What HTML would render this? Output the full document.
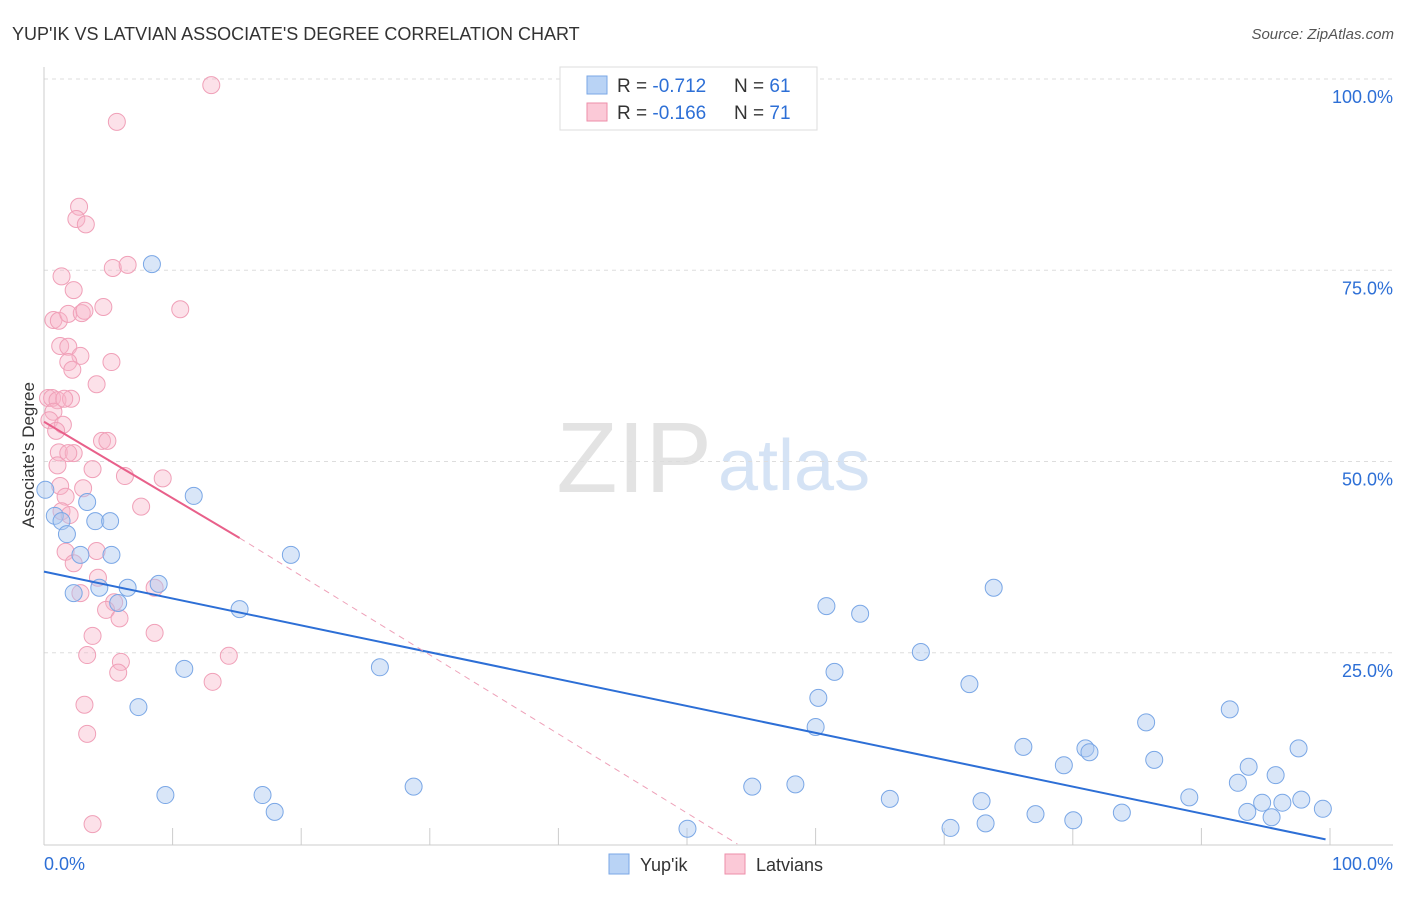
<!DOCTYPE html>
<html><head><meta charset="utf-8"><style>
body{margin:0;background:#fff;font-family:"Liberation Sans",sans-serif;}
svg text{font-family:"Liberation Sans",sans-serif;}
</style></head><body>
<svg id="chart" width="1406" height="892">
<text x="12" y="40" font-size="18" fill="#333">YUP'IK VS LATVIAN ASSOCIATE'S DEGREE CORRELATION CHART</text>
<text x="1394" y="39" font-size="15" fill="#555" text-anchor="end" font-style="italic">Source: ZipAtlas.com</text>
<text x="712" y="492" font-size="100" fill="#e3e3e3" text-anchor="end" font-family="Liberation Serif">ZIP</text>
<text x="718" y="490" font-size="72" fill="#d5e3f5">atlas</text>
<g id="grid"></g><g id="axes"></g><g id="marks"></g>
<text x="34" y="455" font-size="17" fill="#333" text-anchor="middle" transform="rotate(-90 34 455)">Associate's Degree</text>
<g>
<rect x="560" y="67" width="257" height="63" fill="#fff" stroke="#ddd"/>
<rect x="587" y="76" width="20" height="18" fill="#b9d3f5" stroke="#7aa7e6"/>
<text x="617" y="92" font-size="19" fill="#333">R = <tspan fill="#2d6fd6">-0.712</tspan></text>
<text x="734" y="92" font-size="19" fill="#333">N = <tspan fill="#2d6fd6">61</tspan></text>
<rect x="587" y="103" width="20" height="18" fill="#fbc9d7" stroke="#ee8eaa"/>
<text x="617" y="119" font-size="19" fill="#333">R = <tspan fill="#2d6fd6">-0.166</tspan></text>
<text x="734" y="119" font-size="19" fill="#333">N = <tspan fill="#2d6fd6">71</tspan></text>
</g>
<g>
<rect x="609" y="854" width="20" height="20" fill="#b9d3f5" stroke="#7aa7e6"/>
<text x="640" y="871" font-size="18" fill="#333">Yup'ik</text>
<rect x="725" y="854" width="20" height="20" fill="#fbc9d7" stroke="#ee8eaa"/>
<text x="756" y="871" font-size="18" fill="#333">Latvians</text>
</g>
</svg>
<script>
const yTicks=[25,50,75,100];
const yTickLabels=["25.0%","50.0%","75.0%","100.0%"];
const bluePx=[[152,264],[46,490],[55,516],[62,521],[67,534],[87,502],[95,521],[110,521],[81,555],[112,555],[74,593],[99,588],[127,588],[118,603],[159,584],[194,496],[291,555],[240,609],[184,669],[380,667],[139,707],[166,795],[262,795],[275,812],[413,787],[688,829],[752,787],[795,784],[826,606],[860,614],[834,672],[818,698],[815,727],[921,652],[969,684],[994,588],[890,799],[982,801],[950,828],[986,823],[1035,814],[1073,820],[1122,813],[1023,747],[1064,765],[1085,748],[1090,752],[1146,722],[1154,760],[1189,797],[1230,709],[1248,767],[1238,783],[1247,812],[1262,803],[1272,817],[1275,775],[1282,803],[1298,748],[1301,800],[1323,809]];
const pinkPx=[[211,85],[117,122],[79,207],[76,219],[86,224],[62,276],[113,268],[128,265],[74,290],[180,309],[104,307],[54,320],[59,321],[68,314],[82,313],[85,311],[60,346],[68,347],[80,356],[111,362],[68,362],[73,370],[97,384],[48,398],[52,398],[57,400],[71,399],[64,399],[53,412],[50,420],[63,425],[56,431],[59,452],[74,453],[68,453],[102,441],[108,441],[57,465],[92,469],[125,476],[163,478],[60,486],[83,488],[65,497],[141,507],[61,511],[69,515],[96,551],[66,552],[74,563],[98,578],[80,593],[114,602],[106,610],[120,618],[155,588],[154,633],[92,636],[87,655],[121,662],[118,673],[229,656],[213,682],[85,705],[87,734],[93,824]];
const blueX=bluePx.map(p=>+((p[0]-44)/13.49).toFixed(1));
const blueY=bluePx.map(p=>+((844-p[1])/7.65).toFixed(1));
const pinkX=pinkPx.map(p=>+((p[0]-44)/13.49).toFixed(1));
const pinkY=pinkPx.map(p=>+((844-p[1])/7.65).toFixed(1));
const blueTrend=[[0,35.6],[95,0.6]];
const pinkTrend=[[0,55.2],[14.5,40.0],[51.4,0]];

const X0=44,X1=1393,Y0=844,Y1=79;
const sx=v=>X0+(X1-X0)*v/100, sy=v=>Y0-(Y0-Y1)*v/100;
const NS="http://www.w3.org/2000/svg";
function mk(tag,attrs,parent){const e=document.createElementNS(NS,tag);for(const k in attrs)e.setAttribute(k,attrs[k]);document.getElementById(parent).appendChild(e);return e;}
yTicks.forEach((t,i)=>{
  const g=mk("line",{x1:X0,x2:X1,y1:sy(t),y2:sy(t),stroke:"#ddd","stroke-dasharray":"4,4"},"grid");
  
  
  const l=mk("text",{x:1393,y:sy(t)+24,"font-size":18,fill:"#2d6fd6","text-anchor":"end"},"axes");
  l.textContent=yTickLabels[i];
  
  
});
const ax=mk("line",{x1:X0,x2:X1,y1:Y0+1,y2:Y0+1,stroke:"#ccc"},"axes");


const ay=mk("line",{x1:X0,x2:X0,y1:67,y2:Y0+1,stroke:"#ccc"},"axes");


for(let i=1;i<=10;i++){const x=X0+i*128.6;if(x>X1)break;
  const t=mk("line",{x1:x,x2:x,y1:828,y2:845,stroke:"#ccc"},"axes");
  
  }
const xl=mk("text",{x:44,y:870,"font-size":18,fill:"#2d6fd6"},"axes");xl.textContent="0.0%";


const xr=mk("text",{x:1393,y:870,"font-size":18,fill:"#2d6fd6","text-anchor":"end"},"axes");xr.textContent="100.0%";


pinkX.forEach((v,i)=>{const c=mk("circle",{cx:sx(v),cy:sy(pinkY[i]),r:8.5,fill:"rgba(248,180,200,0.4)",stroke:"#f0a0b8","stroke-width":1},"marks");
  
  });
bluePx.forEach((p,i)=>{const c=mk("circle",{cx:sx(blueX[i]),cy:sy(blueY[i]),r:8.5,fill:"rgba(170,200,240,0.45)",stroke:"#7aa7e6","stroke-width":1},"marks");
  
  });
const bt=mk("line",{x1:sx(blueTrend[0][0]),y1:sy(blueTrend[0][1]),x2:sx(blueTrend[1][0]),y2:sy(blueTrend[1][1]),stroke:"#2d6fd6","stroke-width":2},"marks");


const pt=mk("line",{x1:sx(pinkTrend[0][0]),y1:sy(pinkTrend[0][1]),x2:sx(pinkTrend[1][0]),y2:sy(pinkTrend[1][1]),stroke:"#e8608a","stroke-width":2},"marks");


const pd=mk("line",{x1:sx(pinkTrend[1][0]),y1:sy(pinkTrend[1][1]),x2:sx(pinkTrend[2][0]),y2:sy(pinkTrend[2][1]),stroke:"#eea0b8","stroke-width":1,"stroke-dasharray":"6,5"},"marks");


</script>
</body></html>
